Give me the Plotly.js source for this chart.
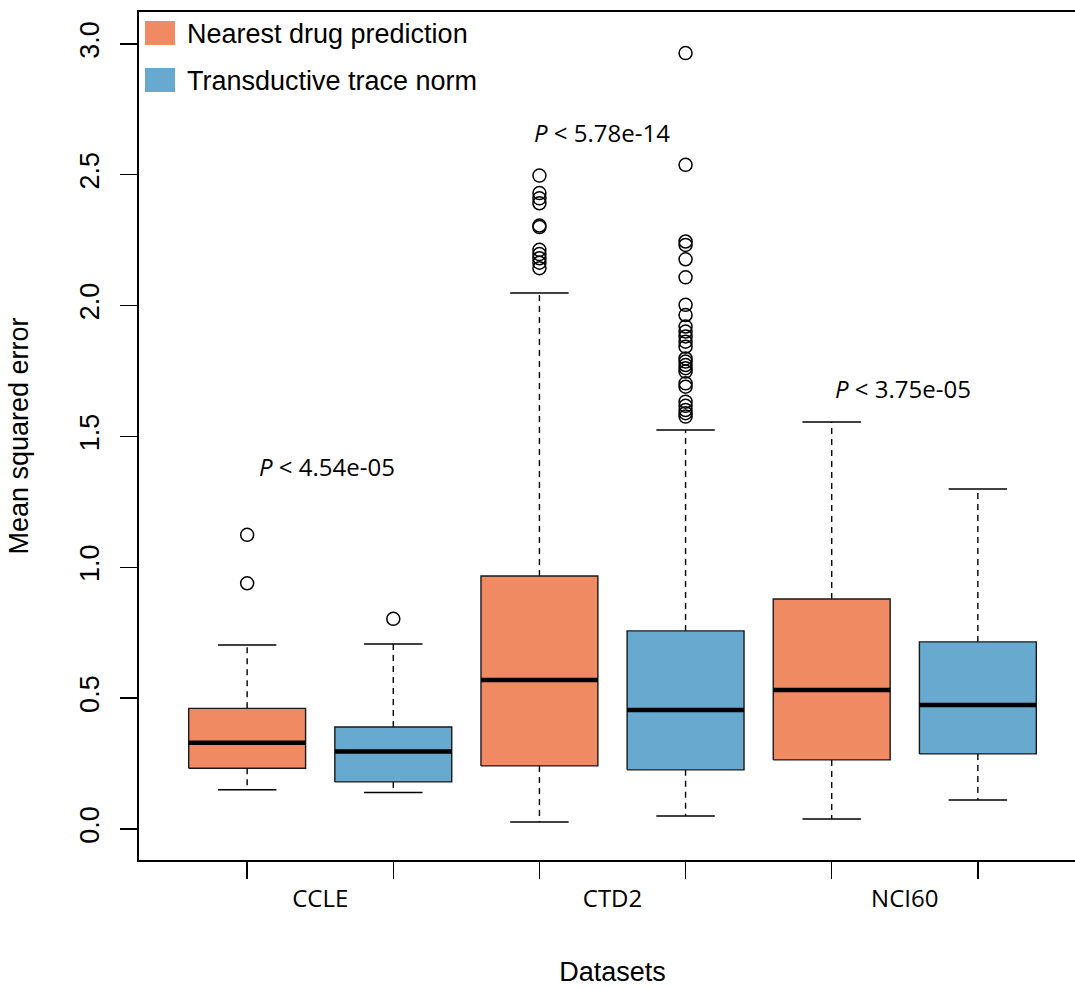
<!DOCTYPE html>
<html>
<head>
<meta charset="utf-8">
<script src="https://cdn.plot.ly/plotly-3.0.1.min.js"></script>
<style>
html, body { margin: 0; padding: 0; background: #fff; overflow: hidden; }
#chart { width: 1090px; height: 987px; }
</style>
</head>
<body>
<div id="chart"></div>
<script>
// ---- data ----
var categories = ['CCLE', 'CTD2', 'NCI60'];
var methods = ['Nearest drug prediction', 'Transductive trace norm'];
var methodColors = ['#EF8A62', '#67A9CF'];

var nearestLow  = [0.150, 0.027, 0.038];
var nearestQ1   = [0.232, 0.241, 0.264];
var nearestMed  = [0.330, 0.569, 0.531];
var nearestQ3   = [0.461, 0.967, 0.879];
var nearestHigh = [0.703, 2.048, 1.555];
var nearestOutliers = [
  [1.124, 0.939],
  [2.497, 2.430, 2.410, 2.391, 2.306, 2.300, 2.213, 2.197, 2.181, 2.164, 2.143],
  []
];

var traceLow  = [0.139, 0.050, 0.111];
var traceQ1   = [0.180, 0.226, 0.287];
var traceMed  = [0.296, 0.455, 0.474];
var traceQ3   = [0.390, 0.757, 0.715];
var traceHigh = [0.707, 1.525, 1.299];
var traceOutliers = [
  [0.803],
  [2.965, 2.538, 2.245, 2.232, 2.177, 2.108, 2.003, 1.964, 1.920, 1.901, 1.882,
   1.862, 1.843, 1.798, 1.786, 1.773, 1.761, 1.748, 1.703, 1.690, 1.633, 1.617,
   1.601, 1.589, 1.576],
  []
];

var pLabels = ['4.54e-05', '5.78e-14', '3.75e-05'];
var pLabelX = [1.547, 3.428, 5.487];
var pLabelY = [1.387, 2.660, 1.685];

var yTickVals = [0, 0.5, 1, 1.5, 2, 2.5, 3];
var yTickText = ['0.0', '0.5', '1.0', '1.5', '2.0', '2.5', '3.0'];

// ---- build traces ----
var stats = [
  {low: nearestLow, q1: nearestQ1, med: nearestMed, q3: nearestQ3, high: nearestHigh, out: nearestOutliers},
  {low: traceLow, q1: traceQ1, med: traceMed, q3: traceQ3, high: traceHigh, out: traceOutliers}
];
var halfBox = 0.4, halfStaple = 0.2;
var traces = [];

stats.forEach(function (s, m) {
  var bx = [], by = [], mx = [], my = [], wx = [], wy = [], sx = [], sy = [], ox = [], oy = [];
  categories.forEach(function (c, g) {
    var p = 2 * g + 1 + m;
    wx.push(p, p, null, p, p, null);
    wy.push(s.q3[g], s.high[g], null, s.q1[g], s.low[g], null);
    sx.push(p - halfStaple, p + halfStaple, null, p - halfStaple, p + halfStaple, null);
    sy.push(s.high[g], s.high[g], null, s.low[g], s.low[g], null);
    bx.push(p - halfBox, p + halfBox, p + halfBox, p - halfBox, p - halfBox, null);
    by.push(s.q1[g], s.q1[g], s.q3[g], s.q3[g], s.q1[g], null);
    mx.push(p - halfBox, p + halfBox, null);
    my.push(s.med[g], s.med[g], null);
    s.out[g].forEach(function (v) { ox.push(p); oy.push(v); });
  });
  traces.push({x: wx, y: wy, mode: 'lines', type: 'scatter', hoverinfo: 'skip',
    line: {color: '#000', width: 1.4, dash: '6px,5px'}, showlegend: false});
  traces.push({x: sx, y: sy, mode: 'lines', type: 'scatter', hoverinfo: 'skip',
    line: {color: '#000', width: 1.5}, showlegend: false});
  traces.push({x: bx, y: by, mode: 'lines', type: 'scatter', fill: 'toself',
    fillcolor: methodColors[m], line: {color: '#1a1a1a', width: 1.4},
    name: methods[m], showlegend: false, hoverinfo: 'skip'});
  traces.push({x: mx, y: my, mode: 'lines', type: 'scatter', hoverinfo: 'skip',
    line: {color: '#000', width: 4.5}, showlegend: false});
  traces.push({x: ox, y: oy, mode: 'markers', type: 'scatter', name: methods[m] + ' outliers',
    marker: {symbol: 'circle-open', size: 13, color: '#000', line: {width: 1.5, color: '#000'}},
    showlegend: false});
});

// category label carrier on an overlay axis
traces.push({x: [1.5, 3.5, 5.5], y: [null, null, null], xaxis: 'x2', type: 'scatter',
  mode: 'markers', showlegend: false, hoverinfo: 'skip'});

// ---- layout ----
var L = 139, T = 12, PW = 947, PH = 848;
function px2paperX(px) { return (px - L) / PW; }
function px2paperY(py) { return (T + PH - py) / PH; }

var annotations = pLabels.map(function (t, i) {
  return {x: pLabelX[i], y: pLabelY[i], xref: 'x', yref: 'y', showarrow: false,
    text: '<i>P</i> &lt; ' + t, xanchor: 'center', yanchor: 'middle',
    font: {family: 'Open Sans, sans-serif', size: 24, color: '#000'}};
});
var shapes = [];
var legendY = [33, 80];
methods.forEach(function (name, m) {
  shapes.push({type: 'rect', xref: 'paper', yref: 'paper',
    x0: px2paperX(145), x1: px2paperX(175),
    y0: px2paperY(legendY[m] - 12), y1: px2paperY(legendY[m] + 12),
    fillcolor: methodColors[m], line: {width: 0}});
  annotations.push({xref: 'paper', yref: 'paper', x: px2paperX(185), y: px2paperY(legendY[m] + 1),
    xanchor: 'left', yanchor: 'middle', showarrow: false, text: name,
    font: {family: 'Liberation Sans, Arial, sans-serif', size: 27, color: '#000'}});
});

var layout = {
  width: 1090, height: 987,
  margin: {l: L, r: 1090 - L - PW, t: T, b: 987 - T - PH},
  paper_bgcolor: '#fff', plot_bgcolor: '#fff',
  showlegend: false,
  xaxis: {range: [0.26, 6.74], tickvals: [1, 2, 3, 4, 5, 6], ticktext: ['', '', '', '', '', ''],
    ticks: 'outside', ticklen: 17, tickwidth: 1.4, tickcolor: '#000',
    showline: true, mirror: true, linecolor: '#000', linewidth: 1.6,
    showgrid: false, zeroline: false, fixedrange: true},
  xaxis2: {overlaying: 'x', anchor: 'y', side: 'bottom', range: [0.26, 6.74],
    tickvals: [1.5, 3.5, 5.5], ticktext: categories, ticks: '', showline: false,
    showgrid: false, zeroline: false, ticklabelstandoff: 22,
    tickfont: {family: 'Open Sans, sans-serif', size: 24, color: '#000'},
    title: {text: 'Datasets', standoff: 51,
      font: {family: 'Liberation Sans, Arial, sans-serif', size: 27, color: '#000'}}},
  yaxis: {range: [-0.1185, 3.122], tickvals: yTickVals, ticktext: yTickText,
    ticks: 'outside', ticklen: 17, tickwidth: 1.4, tickcolor: '#000', tickangle: -90,
    ticklabelstandoff: 11,
    tickfont: {family: 'Liberation Sans, Arial, sans-serif', size: 27, color: '#000'},
    showline: true, mirror: true, linecolor: '#000', linewidth: 1.6,
    showgrid: false, zeroline: false,
    title: {text: 'Mean squared error', standoff: 38,
      font: {family: 'Liberation Sans, Arial, sans-serif', size: 27, color: '#000'}}},
  annotations: annotations,
  shapes: shapes
};

Plotly.newPlot('chart', traces, layout, {staticPlot: true, displayModeBar: false});
</script>
</body>
</html>
